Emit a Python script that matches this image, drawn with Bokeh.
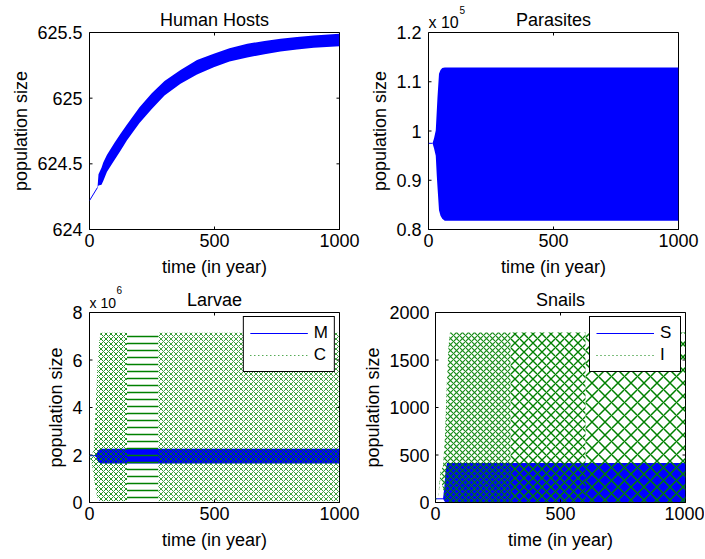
import numpy as np
from bokeh.plotting import figure
from bokeh.layouts import column, row
from bokeh.models import FixedTicker, Range1d, Legend, LegendItem
from bokeh.core.properties import value
from bokeh.embed import file_html
from bokeh.resources import INLINE

FONT = "Liberation Sans"
BLUE = "#0000ff"
GREEN = "#008000"

# ---------------- data ----------------
x_ticks = [0, 500, 1000]
x_labels = ["0", "500", "1000"]

# Human hosts
human_line_t = [0, 32]
human_line_v = [624.22, 624.32]
human_t = [32, 36, 48, 55, 70, 100, 124, 150, 200, 250, 300, 364, 430, 497, 560, 631, 700, 764, 830, 897, 1000]
human_upper = [624.32, 624.42, 624.47, 624.51, 624.57, 624.66, 624.73, 624.80, 624.93, 625.04, 625.13, 625.215,
               625.29, 625.338, 625.38, 625.414, 625.436, 625.452, 625.466, 625.478, 625.49]
human_lower = [624.32, 624.335, 624.34, 624.37, 624.44, 624.53, 624.60, 624.68, 624.81, 624.92, 625.02, 625.11,
               625.18, 625.236, 625.28, 625.31, 625.335, 625.355, 625.37, 625.384, 625.395]
human_yticks = [624, 624.5, 625, 625.5]
human_ylabels = ["624", "624.5", "625", "625.5"]

# Parasites
par_line_t = [0, 16]
par_line_v = [97500, 97500]
par_t = [16, 22, 29, 33, 36, 42, 48, 55, 65, 1000]
par_upper = [97500, 98500, 100100, 104000, 106900, 111600, 112400, 112800, 112900, 112900]
par_lower = [97500, 96500, 95000, 91000, 88600, 83900, 82800, 82200, 81800, 81800]
par_yticks = [80000, 90000, 100000, 110000, 120000]
par_ylabels = ["0.8", "0.9", "1", "1.1", "1.2"]

# Larvae
m_line_t = [0, 20]
m_line_v = [1.97e6, 1.97e6]
m_t = [20, 28, 35, 45, 1000]
m_upper = [1.97e6, 2.05e6, 2.2e6, 2.26e6, 2.26e6]
m_lower = [1.97e6, 1.9e6, 1.7e6, 1.64e6, 1.64e6]
c_line_t = [0, 10]
c_line_v = [1.97e6, 2.0e6]
c_t = [0, 10, 17, 24, 31, 38, 44, 150, 275, 1000]
c_upper = [1.97e6, 2.0e6, 2.3e6, 3.8e6, 5.6e6, 6.7e6, 7.15e6, 7.15e6, 7.15e6, 7.15e6]
c_lower = [1.97e6, 1.6e6, 1.07e6, 0.6e6, 0.22e6, 0.1e6, 0.05e6, 0.05e6, 0.05e6, 0.05e6]
c_phase_edges = [0, 150, 275, 1000]
larvae_yticks = [0, 2e6, 4e6, 6e6, 8e6]
larvae_ylabels = ["0", "2", "4", "6", "8"]

# Snails
s_line_t = [0, 30]
s_line_v = [39, 39]
s_t = [30, 35, 40, 46, 1000]
s_upper = [39, 150, 330, 415, 415]
s_lower = [39, 15, 0, 0, 0]
i_line_t = [0, 10]
i_line_v = [39, 45]
i_t = [10, 20, 30, 38, 45, 52, 58, 300, 600, 1000]
i_upper = [45, 330, 380, 700, 1250, 1650, 1790, 1790, 1790, 1790]
i_lower = [35, 250, 150, 30, 0, 0, 0, 0, 0, 0]
i_phase_edges = [10, 300, 600, 1000]
snail_yticks = [0, 500, 1000, 1500, 2000]
snail_ylabels = ["0", "500", "1000", "1500", "2000"]

# ---------------- layout helpers ----------------
GAP = 6          # space between the y tick labels and the box
TITLE_H = 31     # height of the strip holding titles / exponents


def style_text_axis(ax):
    ax.major_label_text_font = FONT
    ax.major_label_text_font_size = "18px"
    ax.major_label_text_color = "black"
    ax.axis_label_text_font = FONT
    ax.axis_label_text_font_size = "18px"
    ax.axis_label_text_font_style = "normal"
    ax.axis_label_text_color = "black"
    ax.minor_tick_line_color = None


def y_axis_fig(width, height, top, bottom, yr, yticks, ylabels):
    """Narrow figure that only carries the y axis (tick labels + axis label)."""
    f = figure(width=width, height=height, x_range=Range1d(0, 1), y_range=Range1d(*yr),
               output_backend="svg", toolbar_location=None, title=None, x_axis_location=None,
               min_border_left=width - 1, min_border_right=0, min_border_top=top, min_border_bottom=bottom)
    f.grid.visible = False
    f.outline_line_color = None
    f.background_fill_color = "white"
    f.border_fill_color = "white"
    ax = f.yaxis[0]
    ax.ticker = FixedTicker(ticks=yticks)
    ax.major_label_overrides = {t: l for t, l in zip(yticks, ylabels)}
    ax.major_tick_in = 0
    ax.major_tick_out = 0
    ax.major_tick_line_color = None
    ax.axis_line_color = None
    ax.major_label_standoff = 0
    ax.axis_label = "population size"
    ax.axis_label_standoff = 3
    style_text_axis(ax)
    return f


def main_fig(width, height, right, bottom, yr, yticks):
    p = figure(width=width, height=height, x_range=Range1d(0, 1000), y_range=Range1d(*yr),
               output_backend="svg", toolbar_location=None, title=None, y_axis_location=None,
               min_border_left=GAP, min_border_right=right, min_border_top=1, min_border_bottom=bottom)
    p.grid.visible = False
    p.background_fill_color = "white"
    p.border_fill_color = "white"
    p.outline_line_color = "black"
    p.outline_line_width = 1
    ax = p.xaxis[0]
    ax.ticker = FixedTicker(ticks=x_ticks)
    ax.major_label_overrides = {t: l for t, l in zip(x_ticks, x_labels)}
    ax.major_tick_in = 3
    ax.major_tick_out = 0
    ax.axis_line_color = "black"
    ax.major_tick_line_color = "black"
    ax.major_label_standoff = 4
    ax.axis_label = "time (in year)"
    ax.axis_label_standoff = 7
    style_text_axis(ax)
    # inward tick marks on the top, left and right edges of the box (half clipped by the frame)
    p.scatter(x=x_ticks, y=[yr[1]] * len(x_ticks), marker="dash", size=6, angle=np.pi / 2,
              line_color="black", line_width=1)
    for xe in (0, 1000):
        p.scatter(x=[xe] * len(yticks), y=yticks, marker="dash", size=6,
                  line_color="black", line_width=1)
    return p


def title_fig(width, right, title, base, exp=None, exp_base=None, sup_base=None, sup_dx=31, exp_size="15px"):
    t = figure(width=width, height=TITLE_H, x_range=Range1d(0, 1000), y_range=Range1d(0, TITLE_H),
               output_backend="svg", toolbar_location=None, title=None,
               x_axis_type=None, y_axis_type=None,
               min_border_left=GAP, min_border_right=right, min_border_top=0, min_border_bottom=0)
    t.grid.visible = False
    t.outline_line_color = None
    t.background_fill_color = "white"
    t.border_fill_color = "white"
    t.text(x=[500], y=[base], text=[title], text_align="center", text_baseline="alphabetic",
           text_font=value(FONT), text_font_size="18px", text_color="black")
    if exp is not None:
        t.text(x=[0], y=[exp_base], text=["x 10"], text_align="left", text_baseline="alphabetic",
               text_font=value(FONT), text_font_size=exp_size, text_color="black")
        t.text(x=[0], y=[sup_base], x_offset=sup_dx, text=[exp], text_align="left",
               text_baseline="alphabetic", text_font=value(FONT), text_font_size="10px",
               text_color="black")
    return t


def hatch_band(p, t, lo, hi, a, b, pattern, scale, weight, alpha=1.0):
    t = np.asarray(t, dtype=float)
    m = (t >= a) & (t <= b)
    p.varea(x=t[m], y1=np.asarray(lo, dtype=float)[m], y2=np.asarray(hi, dtype=float)[m],
            fill_color=None, fill_alpha=0, hatch_pattern=pattern, hatch_color=GREEN,
            hatch_scale=scale, hatch_weight=weight, hatch_alpha=alpha)


def add_legend(p, items):
    lg = Legend(items=items, location="top_right", orientation="vertical",
                border_line_color="black", border_line_width=1, border_line_alpha=1,
                background_fill_color="white", background_fill_alpha=1,
                padding=6, spacing=2, margin=4, glyph_width=58, glyph_height=20,
                label_height=20, label_width=14, label_standoff=6,
                label_text_font=FONT, label_text_font_size="17px", label_text_color="black")
    p.add_layout(lg)


def panel(frame_x0, frame_top, frame_h, bottom, right, yr, yticks, ylabels, title_f_args):
    axis_w = frame_x0 - GAP
    main_w = GAP + 250 + right
    total_h = frame_top + frame_h + bottom
    yf = y_axis_fig(axis_w, total_h, frame_top, bottom, yr, yticks, ylabels)
    tf = title_fig(main_w, right, **title_f_args)
    mf = main_fig(main_w, total_h - TITLE_H, right, bottom, yr, yticks)
    return yf, tf, mf

# ---------------- Human hosts ----------------
y1, t1, p1 = panel(89, 32, 197, 51, 21, (624, 625.5), human_yticks, human_ylabels,
                   dict(title="Human Hosts", base=11.7))
p1.line(human_line_t, human_line_v, line_color=BLUE, line_width=1)
p1.varea(x=human_t, y1=human_lower, y2=human_upper, fill_color=BLUE)

# ---------------- Parasites ----------------
y2, t2, p2 = panel(428 - 360, 32, 197, 51, 26, (80000, 120000), par_yticks, par_ylabels,
                   dict(title="Parasites", base=11.7, exp="5", exp_base=9, sup_base=22, sup_dx=31,
                        exp_size="16px"))
p2.line(par_line_t, par_line_v, line_color=BLUE, line_width=1)
p2.varea(x=par_t, y1=par_lower, y2=par_upper, fill_color=BLUE)

# ---------------- Larvae ----------------
y3, t3, p3 = panel(89, 32, 190, 55, 21, (0, 8e6), larvae_yticks, larvae_ylabels,
                   dict(title="Larvae", base=11.7, exp="6", exp_base=9, sup_base=22, sup_dx=27,
                        exp_size="14px"))
m_r = p3.line(m_line_t, m_line_v, line_color=BLUE, line_width=1)
p3.varea(x=m_t, y1=m_lower, y2=m_upper, fill_color=BLUE)
c_r = p3.line(c_line_t, c_line_v, line_color=GREEN, line_width=1.2, line_dash="1 3")
larvae_styles = [("diagonal_cross", 5, 1.0, 0.85), ("horizontal_line", 7, 1.5, 1.0), ("diagonal_cross", 5, 1.0, 0.75)]
for (a, b), (pat, sc, w, al) in zip(zip(c_phase_edges[:-1], c_phase_edges[1:]), larvae_styles):
    hatch_band(p3, c_t, c_lower, c_upper, a, b, pat, sc, w, al)
add_legend(p3, [LegendItem(label="M", renderers=[m_r]), LegendItem(label="C", renderers=[c_r])])

# ---------------- Snails ----------------
y4, t4, p4 = panel(435 - 360, 32, 190, 55, 19, (0, 2000), snail_yticks, snail_ylabels,
                   dict(title="Snails", base=11.7))
s_r = p4.line(s_line_t, s_line_v, line_color=BLUE, line_width=1)
p4.varea(x=s_t, y1=s_lower, y2=s_upper, fill_color=BLUE)
i_r = p4.line(i_line_t, i_line_v, line_color=GREEN, line_width=1.2, line_dash="1 3")
snail_styles = [("diagonal_cross", 6, 1.2, 0.9), ("diagonal_cross", 9, 1.4, 1.0), ("diagonal_cross", 13, 1.5, 1.0)]
for (a, b), (pat, sc, w, al) in zip(zip(i_phase_edges[:-1], i_phase_edges[1:]), snail_styles):
    hatch_band(p4, i_t, i_lower, i_upper, a, b, pat, sc, w, al)
add_legend(p4, [LegendItem(label="S", renderers=[s_r]), LegendItem(label="I", renderers=[i_r])])

layout = column(
    row(y1, column(t1, p1), y2, column(t2, p2)),
    row(y3, column(t3, p3), y4, column(t4, p4)),
)
open("out.html", "w").write(file_html(layout, INLINE))
